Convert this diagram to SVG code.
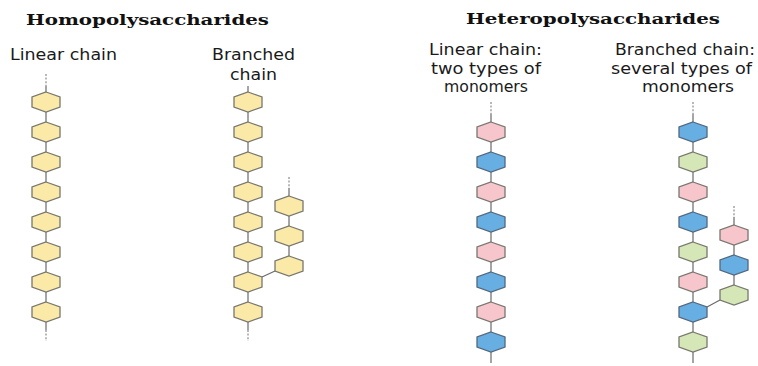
<svg xmlns="http://www.w3.org/2000/svg" xmlns:xlink="http://www.w3.org/1999/xlink" width="758" height="366" viewBox="0 0 758 366">
<defs>
<style>
.title{font-family:"DejaVu Serif","Liberation Serif",serif;font-weight:bold;font-size:15px;fill:#111;}
.lbl{font-family:"DejaVu Sans","Verdana",sans-serif;font-size:16px;fill:#1a1a1a;}
.hx{stroke:#77776f;stroke-width:1.3;}
.y{fill:#fbe9a7;}
.p{fill:#f7c6cd;}
.b{fill:#67aee2;stroke:#52687e;}
.g{fill:#d5e7b6;}
.ln{stroke:#6a6a6a;stroke-width:1.2;fill:none;}
.dash{stroke:#8a8a8a;stroke-width:1.2;stroke-dasharray:2 1.6;fill:none;}
</style>
<path id="hex" d="M0,-10 L14,-5 L14,5 L0,10 L-14,5 L-14,-5 Z"/>
</defs>
<rect width="758" height="366" fill="#ffffff"/>

<g id="titles">
<text class="title" x="26" y="25" textLength="243" lengthAdjust="spacingAndGlyphs">Homopolysaccharides</text>
<text class="title" x="466" y="24" textLength="254" lengthAdjust="spacingAndGlyphs">Heteropolysaccharides</text>
</g>
<g id="labels">
<text class="lbl" x="10" y="60" textLength="107" lengthAdjust="spacingAndGlyphs">Linear chain</text>
<text class="lbl" x="212" y="60" textLength="83" lengthAdjust="spacingAndGlyphs">Branched</text>
<text class="lbl" x="230" y="80" textLength="47" lengthAdjust="spacingAndGlyphs">chain</text>
<text class="lbl" x="429" y="55" textLength="113" lengthAdjust="spacingAndGlyphs">Linear chain:</text>
<text class="lbl" x="431" y="74" textLength="110" lengthAdjust="spacingAndGlyphs">two types of</text>
<text class="lbl" x="444" y="92" textLength="84" lengthAdjust="spacingAndGlyphs">monomers</text>
<text class="lbl" x="615" y="55" textLength="140" lengthAdjust="spacingAndGlyphs">Branched chain:</text>
<text class="lbl" x="611" y="74" textLength="141" lengthAdjust="spacingAndGlyphs">several types of</text>
<text class="lbl" x="642" y="92" textLength="92" lengthAdjust="spacingAndGlyphs">monomers</text>
</g>

<g id="connectors">
<path class="dash" d="M46,74 V86"/>
<path class="ln" d="M46,86 V92 M46,112 V122 M46,142 V152 M46,172 V182 M46,202 V212 M46,232 V242 M46,262 V272 M46,292 V302 M46,322 V330"/>
<path class="dash" d="M46,330 V341"/>
<path class="ln" d="M248,86 V92 M248,112 V122 M248,142 V152 M248,172 V182 M248,202 V212 M248,232 V242 M248,262 V272 M248,292 V302 M248,322 V330"/>
<path class="dash" d="M248,330 V341"/>
<path class="dash" d="M289,177 V188"/>
<path class="ln" d="M289,188 V196 M289,216 V226 M289,246 V256 M262,277 L275,271"/>
<path class="dash" d="M491,102 V114"/>
<path class="ln" d="M491,114 V122 M491,142 V152 M491,172 V182 M491,202 V212 M491,232 V242 M491,262 V272 M491,292 V302 M491,322 V332 M491,352 V363"/>
<path class="dash" d="M693,102 V114"/>
<path class="ln" d="M693,114 V122 M693,142 V152 M693,172 V182 M693,202 V212 M693,232 V242 M693,262 V272 M693,292 V302 M693,322 V332 M693,352 V363"/>
<path class="dash" d="M734,206 V217"/>
<path class="ln" d="M734,217 V225 M734,245 V255 M734,275 V285 M707,307 L720,300"/>
</g>

<g id="homo-linear">
<use href="#hex" class="hx y" x="46" y="102"/>
<use href="#hex" class="hx y" x="46" y="132"/>
<use href="#hex" class="hx y" x="46" y="162"/>
<use href="#hex" class="hx y" x="46" y="192"/>
<use href="#hex" class="hx y" x="46" y="222"/>
<use href="#hex" class="hx y" x="46" y="252"/>
<use href="#hex" class="hx y" x="46" y="282"/>
<use href="#hex" class="hx y" x="46" y="312"/>
</g>
<g id="homo-branched">
<use href="#hex" class="hx y" x="248" y="102"/>
<use href="#hex" class="hx y" x="248" y="132"/>
<use href="#hex" class="hx y" x="248" y="162"/>
<use href="#hex" class="hx y" x="248" y="192"/>
<use href="#hex" class="hx y" x="248" y="222"/>
<use href="#hex" class="hx y" x="248" y="252"/>
<use href="#hex" class="hx y" x="248" y="282"/>
<use href="#hex" class="hx y" x="248" y="312"/>
<use href="#hex" class="hx y" x="289" y="206"/>
<use href="#hex" class="hx y" x="289" y="236"/>
<use href="#hex" class="hx y" x="289" y="266"/>
</g>
<g id="hetero-linear">
<use href="#hex" class="hx p" x="491" y="132"/>
<use href="#hex" class="hx b" x="491" y="162"/>
<use href="#hex" class="hx p" x="491" y="192"/>
<use href="#hex" class="hx b" x="491" y="222"/>
<use href="#hex" class="hx p" x="491" y="252"/>
<use href="#hex" class="hx b" x="491" y="282"/>
<use href="#hex" class="hx p" x="491" y="312"/>
<use href="#hex" class="hx b" x="491" y="342"/>
</g>
<g id="hetero-branched">
<use href="#hex" class="hx b" x="693" y="132"/>
<use href="#hex" class="hx g" x="693" y="162"/>
<use href="#hex" class="hx p" x="693" y="192"/>
<use href="#hex" class="hx b" x="693" y="222"/>
<use href="#hex" class="hx g" x="693" y="252"/>
<use href="#hex" class="hx p" x="693" y="282"/>
<use href="#hex" class="hx b" x="693" y="312"/>
<use href="#hex" class="hx g" x="693" y="342"/>
<use href="#hex" class="hx p" x="734" y="235"/>
<use href="#hex" class="hx b" x="734" y="265"/>
<use href="#hex" class="hx g" x="734" y="295"/>
</g>
</svg>
